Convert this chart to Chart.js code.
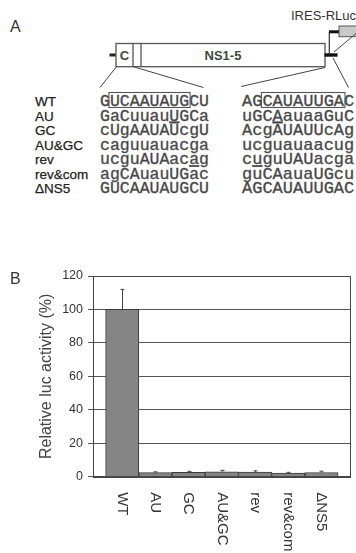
<!DOCTYPE html>
<html>
<head>
<meta charset="utf-8">
<script src="https://cdn.jsdelivr.net/npm/chart.js@4.4.1/dist/chart.umd.min.js"></script>
<style>
  html, body { margin: 0; padding: 0; background: #fff; }
  #page { position: relative; width: 356px; height: 553px; overflow: hidden; background: #fff; }
  #schema { position: absolute; left: 0; top: 0; }
  #chartBox { position: absolute; left: 0; top: 250px; width: 356px; height: 303px; }
  .lbl { font-family: "Liberation Sans", Arial, sans-serif; font-size: 13.5px; fill: #222; stroke: #222; stroke-width: 0.25px; }
  .seq { font-family: "Liberation Mono", "Courier New", monospace; fill: #444; stroke: #555; stroke-width: 0.35px; }
</style>
</head>
<body>
<div id="page">
  <svg id="schema" width="356" height="250" xmlns="http://www.w3.org/2000/svg">
    <text x="10" y="32" font-family="Liberation Sans, Arial, sans-serif" font-size="16" fill="#333">A</text>
    <text x="291" y="20" font-family="Liberation Sans, Arial, sans-serif" font-size="13" fill="#333">IRES-RLuc</text>

    <!-- genome construct -->
    <rect x="116" y="43.5" width="209" height="23.2" fill="#fff" stroke="#555" stroke-width="1.3"/>
    <line x1="133" y1="43.5" x2="133" y2="66.7" stroke="#555" stroke-width="1.3"/>
    <line x1="141" y1="43.5" x2="141" y2="66.7" stroke="#555" stroke-width="1.3"/>
    <rect x="109.5" y="53.5" width="6" height="3" fill="#222"/>
    <text x="124.5" y="60" text-anchor="middle" font-family="Liberation Sans, Arial, sans-serif" font-size="13" font-weight="bold" fill="#444">C</text>
    <text x="223" y="60" text-anchor="middle" font-family="Liberation Sans, Arial, sans-serif" font-size="13" font-weight="bold" fill="#3d4a3f">NS1-5</text>

    <!-- 3' end and reporter -->
    <line x1="329.3" y1="31.7" x2="329.3" y2="54" stroke="#333" stroke-width="1.2"/>
    <rect x="329" y="30.3" width="10" height="3" fill="#111"/>
    <rect x="339" y="26" width="20" height="10.7" fill="#c9c9c9" stroke="#555" stroke-width="1"/>
    <line x1="356" y1="33.5" x2="334" y2="52" stroke="#444" stroke-width="1"/>
    <rect x="324.5" y="53.3" width="13" height="3.4" fill="#111"/>

    <!-- expansion lines -->
    <line x1="116.5" y1="66.7" x2="100" y2="87.5" stroke="#444" stroke-width="1"/>
    <line x1="133.3" y1="66.7" x2="203.5" y2="87.5" stroke="#444" stroke-width="1"/>
    <line x1="325" y1="67.5" x2="241" y2="86.5" stroke="#444" stroke-width="1"/>
    <line x1="333" y1="58" x2="348.5" y2="87.5" stroke="#444" stroke-width="1"/>

    <g id="seqRows"></g>
  </svg>

  <div id="chartBox"><canvas id="chart"></canvas></div>

  <svg style="position:absolute;left:0;top:250px" width="40" height="50" xmlns="http://www.w3.org/2000/svg">
    <text x="10" y="34" font-family="Liberation Sans, Arial, sans-serif" font-size="16" fill="#333">B</text>
  </svg>
</div>

<script>
// ---- panel A: sequence variants ----
const variantNames = ['WT', 'AU', 'GC', 'AU&GC', 'rev', 'rev&com', '\u0394NS5'];
const seq5 = ['GUCAAUAUGCU', 'GaCuuauUGCa', 'cUgAAUAUcgU', 'caguuauacga', 'ucguAUAacag', 'agCAuauUGac', 'GUCAAUAUGCU'];
const seq3 = ['AGCAUAUUGAC', 'uGCAauaaGuC', 'AcgAUAUUcAg', 'ucguauaacug', 'cuguUAUacga', 'guCAauaUGcu', 'AGCAUAUUGAC'];
// underlined positions (index into the sequence string), -1 = none
const under5 = [-1, 7, -1, -1, 9, -1, -1];
const under3 = [-1, 3, -1, -1, 1, -1, -1];

// ---- panel B: relative luciferase activity ----
const categories = ['WT', 'AU', 'GC', 'AU&GC', 'rev', 'rev&com', '\u0394NS5'];
const activity = [100, 2.4, 2.6, 2.9, 2.8, 2.2, 2.5];
const activityErr = [12, 0.5, 0.6, 0.9, 0.7, 0.4, 0.8];
const yTickValues = [0, 20, 40, 60, 80, 100, 120];

(function drawSequences() {
  const NS = 'http://www.w3.org/2000/svg';
  const g = document.getElementById('seqRows');
  const rowY0 = 106, rowStep = 14.55;
  const x5 = 100, x3 = 242, fs5 = 16.5, fs3 = 17;
  function seqText(x, y, fs, s, u) {
    const t = document.createElementNS(NS, 'text');
    t.setAttribute('x', x); t.setAttribute('y', y);
    t.setAttribute('class', 'seq'); t.setAttribute('font-size', fs);
    for (let i = 0; i < s.length; i++) {
      const sp = document.createElementNS(NS, 'tspan');
      sp.textContent = s[i];
      if (i === u) sp.setAttribute('text-decoration', 'underline');
      t.appendChild(sp);
    }
    g.appendChild(t);
  }
  variantNames.forEach((name, r) => {
    const y = rowY0 + r * rowStep;
    const l = document.createElementNS(NS, 'text');
    l.setAttribute('x', 35); l.setAttribute('y', y);
    l.setAttribute('class', 'lbl');
    l.textContent = name;
    g.appendChild(l);
    seqText(x5, y, fs5, seq5[r], under5[r]);
    seqText(x3, y, fs3, seq3[r], under3[r]);
  });
  // boxed core motifs in the wild-type row
  const cw5 = fs5 * 0.6, cw3 = fs3 * 0.6;
  function box(x, w) {
    const b = document.createElementNS(NS, 'rect');
    b.setAttribute('x', x); b.setAttribute('y', rowY0 - 13.5);
    b.setAttribute('width', w); b.setAttribute('height', 15);
    b.setAttribute('fill', 'none'); b.setAttribute('stroke', '#555'); b.setAttribute('stroke-width', '1.1');
    g.appendChild(b);
  }
  box(x5 + cw5 - 1, cw5 * 8 + 2);
  box(x3 + cw3 * 2 - 1, cw3 * 8 + 2);
})();

const FONT = '"Liberation Sans", Arial, sans-serif';

// vertical error bars above each column
const errorBars = {
  id: 'errorBars',
  afterDatasetsDraw(chart) {
    const {ctx, scales: {x, y}} = chart;
    ctx.save();
    ctx.strokeStyle = '#444';
    ctx.lineWidth = 1;
    activity.forEach((v, i) => {
      const px = Math.round(x.getPixelForValue(i)) + 0.5;
      const y0 = y.getPixelForValue(v);
      const y1 = y.getPixelForValue(v + activityErr[i]);
      ctx.beginPath();
      ctx.moveTo(px, y0); ctx.lineTo(px, y1);
      ctx.moveTo(px - 2, y1); ctx.lineTo(px + 2, y1);
      ctx.stroke();
    });
    ctx.restore();
  }
};

// closed plot frame and downward-reading category names
const frameAndLabels = {
  id: 'frameAndLabels',
  afterDraw(chart) {
    const {ctx, chartArea: a, scales: {x}} = chart;
    ctx.save();
    ctx.strokeStyle = '#444';
    ctx.lineWidth = 1;
    ctx.strokeRect(Math.round(a.left) + 0.5, Math.round(a.top) + 0.5,
                   Math.round(a.right - a.left), Math.round(a.bottom - a.top));
    ctx.fillStyle = '#333';
    ctx.font = '15px ' + FONT;
    ctx.textAlign = 'left';
    ctx.textBaseline = 'middle';
    categories.forEach((c, i) => {
      ctx.save();
      ctx.translate(x.getPixelForValue(i), a.bottom + 15.5);
      ctx.rotate(Math.PI / 2);
      ctx.fillText(c, 0, 0);
      ctx.restore();
    });
    ctx.restore();
  }
};

new Chart(document.getElementById('chart'), {
  type: 'bar',
  data: {
    datasets: [{
      data: activity.map((v, i) => ({x: i, y: v})),
      backgroundColor: '#858585',
      borderColor: '#3a3a3a',
      borderWidth: 1,
      barPercentage: 1,
      categoryPercentage: 1
    }]
  },
  options: {
    responsive: true,
    maintainAspectRatio: false,
    animation: false,
    devicePixelRatio: 1,
    layout: { padding: { top: 26, right: 6, left: 0, bottom: 0 } },
    plugins: { legend: { display: false }, tooltip: { enabled: false } },
    scales: {
      x: {
        type: 'linear',
        offset: false,
        min: -0.88,
        max: 6.86,
        afterBuildTicks: s => { s.ticks = categories.map((_, i) => ({value: i})); },
        afterFit: s => { s.height = 76.3; },
        ticks: { display: false },
        grid: { display: false },
        border: { display: true, color: '#444', width: 1 }
      },
      y: {
        min: 0,
        max: 120,
        afterBuildTicks: s => { s.ticks = yTickValues.map(v => ({value: v})); },
        afterFit: s => { s.width = 93; },
        ticks: { color: '#333', font: { family: FONT, size: 12.5 }, padding: 5 },
        grid: { color: '#555', lineWidth: 1, tickLength: 5, drawTicks: true },
        border: { display: true, color: '#444', width: 1 },
        title: {
          display: true,
          text: 'Relative luc activity (%)',
          color: '#444',
          font: { family: FONT, size: 16 },
          padding: { top: 37.4, bottom: 0 }
        }
      }
    }
  },
  plugins: [errorBars, frameAndLabels]
});
</script>
</body>
</html>
